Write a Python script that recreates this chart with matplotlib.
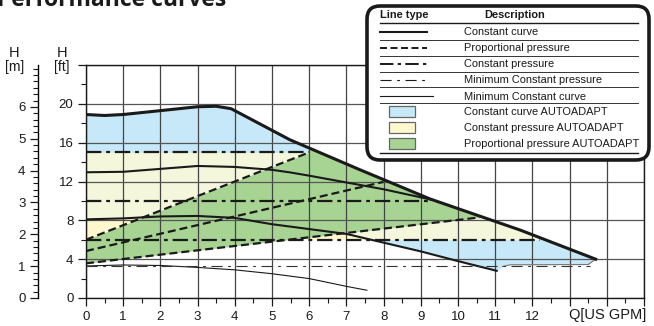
import numpy as np
import matplotlib.pyplot as plt
from matplotlib.patches import FancyBboxPatch, Rectangle
from matplotlib.ticker import MultipleLocator, FixedLocator

plt.rcParams['font.family'] = ['Liberation Sans', 'DejaVu Sans']

# ---- data (Q in US GPM, H in ft) ----
max_q = [0, 0.5, 1, 2, 3, 3.5, 3.9, 5.48, 7.37, 9.25, 11.67, 13.7]
max_h = [18.9, 18.8, 18.9, 19.3, 19.7, 19.75, 19.5, 16.3, 13.2, 10.2, 7.0, 4.0]

cc_high_q = [0, 1, 2, 3, 4, 5, 5.48, 6, 7, 8, 9.25]
cc_high_h = [12.95, 13.0, 13.3, 13.6, 13.5, 13.2, 12.94, 12.6, 11.9, 11.2, 10.16]

cc_low_q = [0, 1, 2, 3, 4, 5, 6, 7, 8, 9, 10, 11.04]
cc_low_h = [8.1, 8.2, 8.4, 8.45, 8.25, 7.6, 7.1, 6.6, 5.7, 4.8, 3.8, 2.8]

# bottom edge of the blue area after the low constant curve ends
hook_q = [11.2, 11.4, 13.5, 13.7]
hook_h = [3.25, 3.42, 3.45, 4.0]

min_cc_q = [0, 1, 2, 3, 4, 5, 6, 7, 7.55]
min_cc_h = [3.3, 3.4, 3.35, 3.15, 2.9, 2.5, 2.0, 1.2, 0.8]

pp_up_q = [0, 6.0]
pp_up_h = [6.0, 15.0]
pp_mid_q = [0, 8.0]
pp_mid_h = [4.84, 11.96]
pp_low_q = [0, 10.58]
pp_low_h = [3.57, 8.3]

cp_levels = [15, 10, 6]
cp_end_q = [6.0, 9.25, 12.2]

min_cp_level = 3.25
min_cp_end_q = 13.55

x_ticks = list(range(0, 16))
x_labels = [str(i) for i in range(13)] + ['', '', '']
ft_ticks = [0, 4, 8, 12, 16, 20, 24]
ft_labels = ['0', '4', '8', '12', '16', '20', '']
m_ticks = [0, 1, 2, 3, 4, 5, 6]

legend_lines = ['Constant curve', 'Proportional pressure', 'Constant pressure',
                'Minimum Constant pressure', 'Minimum Constant curve']
legend_areas = ['Constant curve AUTOADAPT', 'Constant pressure AUTOADAPT',
                'Proportional pressure AUTOADAPT']

c_blue = '#c7e8f8'
c_yel = '#fff8cf'
c_yel_pale = '#f4f7dc'
c_green = '#a7d493'
ink = '#1a1a1a'

ls_pp = (0, (3.6, 1.8))
ls_cp = (0, (6.9, 2.2, 1.7, 2.2))
ls_mcp = (0, (10, 5, 2.5, 5))

W, H = 654, 326
fig = plt.figure(figsize=(W / 100, H / 100), dpi=100)
ax = fig.add_axes([86 / W, 1 - 298 / H, 558 / W, 233 / H])

# ---- filled areas ----
qq = np.linspace(0, 13.7, 1200)
top = np.interp(qq, max_q, max_h)
bot = np.interp(qq, cc_low_q + hook_q, cc_low_h + hook_h)
ax.fill_between(qq, bot, top, color=c_blue, lw=0, zorder=0.2)

lowc = np.interp(qq, cc_low_q, cc_low_h, right=-1)
ytop = np.minimum(15, top)
ysat = np.minimum(lowc, ytop)
ax.fill_between(qq, 6, ysat, where=(ysat > 6) & (qq <= cp_end_q[2]), color=c_yel, lw=0, zorder=0.2)
ybot = np.maximum(6, lowc)
ax.fill_between(qq, ybot, ytop, where=(ytop > ybot) & (qq <= cp_end_q[2]), color=c_yel_pale, lw=0, zorder=0.2)

gl = np.interp(qq, pp_low_q, pp_low_h)
gu = np.where(qq <= pp_up_q[1], np.interp(qq, pp_up_q, pp_up_h), 99)
gu = np.minimum(gu, top)
ax.fill_between(qq, gl, gu, where=(gu > gl) & (qq <= pp_low_q[1] + 0.02), color=c_green, lw=0, zorder=0.2)

# ---- curves ----
ax.plot(max_q, max_h, color=ink, lw=2.2, solid_joinstyle='round', zorder=4)
ax.plot(cc_high_q, cc_high_h, color=ink, lw=1.5, zorder=3)
ax.plot(cc_low_q, cc_low_h, color=ink, lw=1.5, zorder=3)
ax.plot(hook_q, hook_h, color='#777777', lw=0.8, zorder=3)
ax.plot(min_cc_q, min_cc_h, color=ink, lw=0.8, zorder=3)
for q, h in [(pp_up_q, pp_up_h), (pp_mid_q, pp_mid_h), (pp_low_q, pp_low_h)]:
    ax.plot(q, h, color=ink, lw=1.6, linestyle=ls_pp, zorder=3)
for lev, qe in zip(cp_levels, cp_end_q):
    ax.plot([0, qe], [lev, lev], color=ink, lw=1.6, linestyle=ls_cp, zorder=3)
ax.plot([0, min_cp_end_q], [min_cp_level, min_cp_level], color='#333333', lw=0.8, linestyle=ls_mcp, zorder=3)

# ---- axes ----
ax.set_xlim(0, 15)
ax.set_ylim(0, 24)
ax.set_xticks(x_ticks)
ax.set_xticklabels(x_labels)
ax.xaxis.set_minor_locator(MultipleLocator(0.5))
ax.set_yticks(ft_ticks)
ax.set_yticklabels(ft_labels)
ax.yaxis.set_minor_locator(MultipleLocator(2))
ax.tick_params(which='major', length=6, width=0.9, labelsize=9.5, colors=ink, pad=3)
ax.tick_params(which='minor', length=3.5, width=0.8, colors=ink)
ax.set_axisbelow(True)
ax.grid(True, which='major', axis='x', color='#444444', lw=0.9)
ax.grid(True, which='major', axis='y', color='#555555', lw=0.9)
for s in ax.spines.values():
    s.set_linewidth(1.0)
    s.set_color(ink)

sec = ax.secondary_yaxis(-48 / 558, functions=(lambda f: f / 3.2808, lambda m: m * 3.2808))
sec.set_yticks(m_ticks)
sec.yaxis.set_minor_locator(FixedLocator(np.arange(0, 7.3, 0.2)))
sec.tick_params(which='major', length=6, width=0.9, labelsize=9.5, colors=ink, pad=3)
sec.tick_params(which='minor', length=3.5, width=0.8, colors=ink)
sec.spines['left'].set_linewidth(1.0)

fig.text(14 / W, 1 - 53 / H, 'H', fontsize=10.5, ha='center', va='center', color=ink)
fig.text(15 / W, 1 - 67 / H, '[m]', fontsize=10, ha='center', va='center', color=ink)
fig.text(62 / W, 1 - 53 / H, 'H', fontsize=10.5, ha='center', va='center', color=ink)
fig.text(62 / W, 1 - 67 / H, '[ft]', fontsize=10, ha='center', va='center', color=ink)
fig.text(608 / W, 1 - 315 / H, 'Q[US GPM]', fontsize=10.5, ha='center', va='center', color=ink)

fig.text(-3 / W, 1 - 6 / H, 'Performance curves', fontsize=16.5, fontweight='bold',
         family=['Open Sans', 'DejaVu Sans'], va='baseline', ha='left', color=ink)

# ---- legend table (pixel coordinates) ----
lg = fig.add_axes([362 / W, 1 - 164 / H, 292 / W, 161 / H], zorder=10)
lg.set_xlim(362, 654)
lg.set_ylim(164, 3)
lg.axis('off')
lg.add_patch(FancyBboxPatch((367, 6), 282, 154, boxstyle='round,pad=0,rounding_size=13',
                            fc='white', ec=ink, lw=2.6))
fs = 7.9
lg.text(404, 15.5, 'Line type', fontsize=fs, fontweight='bold', ha='center', va='center', color=ink)
lg.text(515, 15.5, 'Description', fontsize=fs, fontweight='bold', ha='center', va='center', color=ink)
lg.plot([380, 638], [23, 23], color=ink, lw=1.0)
for yy in [40, 56, 71.7, 87.3, 103.3]:
    lg.plot([380, 638], [yy, yy], color='#333333', lw=0.7)
lg.plot([380, 638], [153.3, 153.3], color=ink, lw=1.0)

row_y = [32, 48, 64, 80, 96.5]
styles = [dict(lw=1.5, ls='-'), dict(lw=1.4, ls=ls_pp), dict(lw=1.4, ls=ls_cp),
          dict(lw=0.8, ls=ls_mcp), dict(lw=0.8, ls='-')]
for lab, yy, st in zip(legend_lines, row_y, styles):
    x1 = 433 if lab == 'Minimum Constant curve' else 427
    lg.plot([380, x1], [yy, yy], color=ink, **st)
    lg.text(464, yy, lab, fontsize=fs, ha='left', va='center', color=ink)
for lab, yy, col in zip(legend_areas, [111.7, 127.7, 144], [c_blue, c_yel, c_green]):
    lg.add_patch(Rectangle((389, yy - 5.5), 26, 11, fc=col, ec='#666666', lw=0.9))
    lg.text(464, yy, lab, fontsize=fs, ha='left', va='center', color=ink)

fig.savefig('out.png', dpi=100)
